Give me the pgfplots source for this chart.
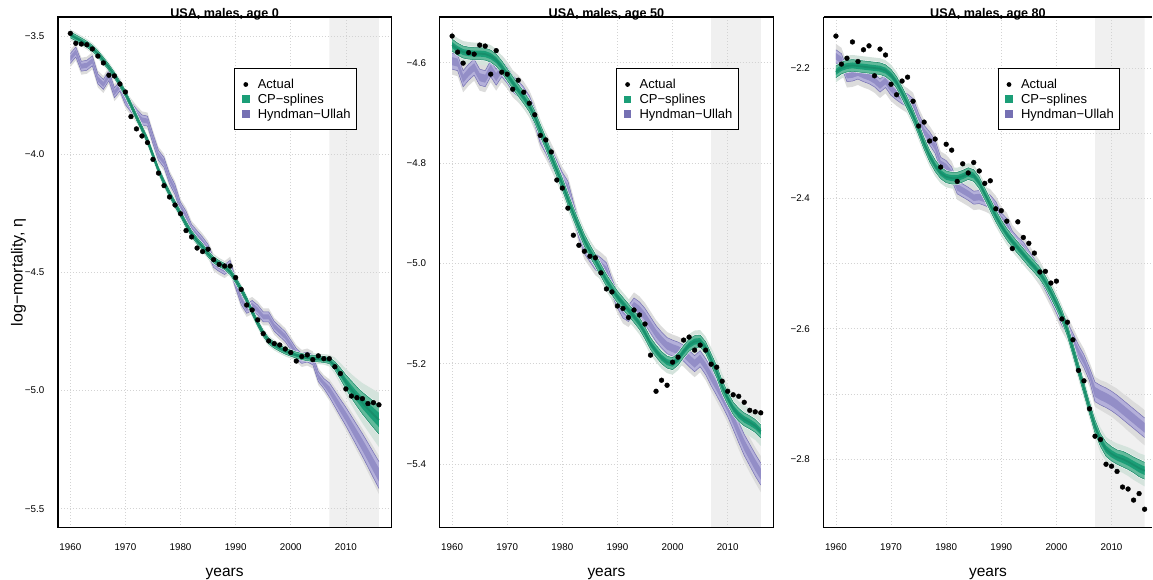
\documentclass[border=0pt]{standalone}
\usepackage{pgfplots}
\pgfplotsset{compat=1.18}
\usepackage{pgfplotstable}
\usepgfplotslibrary{fillbetween}
\usepackage{fontspec}
\setmainfont{Liberation Sans}
\tikzset{fill between/on layer=main}

\definecolor{cpg}{HTML}{1B9E77}
\definecolor{cpl}{HTML}{62BA9B}
\definecolor{hup}{HTML}{7570B3}
\definecolor{hul}{HTML}{B4B0DA}
\definecolor{hum}{HTML}{938EC7}
\definecolor{halo}{HTML}{DCDCDC}
\definecolor{cphalo}{HTML}{D4E3DC}
\definecolor{fc}{HTML}{F0F0F0}
\definecolor{gridc}{HTML}{D3D3D3}

% yr: year, act: actual, cc/cw/cg: CP-splines centre, inner and outer half-width,
% hc/hw/hg: Hyndman-Ullah centre, inner and outer half-width
\pgfplotstableread{
yr act cc cw cg hc hw hg
1960 -3.489 -3.495 0.013 0.022 -3.595 0.021 0.036
1961 -3.531 -3.508 0.013 0.022 -3.568 0.021 0.036
1962 -3.534 -3.521 0.013 0.022 -3.628 0.021 0.036
1963 -3.537 -3.535 0.013 0.022 -3.624 0.021 0.036
1964 -3.555 -3.552 0.013 0.022 -3.605 0.021 0.036
1965 -3.585 -3.575 0.013 0.022 -3.682 0.021 0.036
1966 -3.614 -3.603 0.013 0.022 -3.705 0.021 0.036
1967 -3.666 -3.633 0.013 0.022 -3.668 0.021 0.036
1968 -3.669 -3.666 0.013 0.022 -3.740 0.021 0.036
1969 -3.703 -3.703 0.013 0.022 -3.712 0.021 0.036
1970 -3.737 -3.744 0.013 0.022 -3.770 0.021 0.036
1971 -3.841 -3.792 0.013 0.022 -3.800 0.021 0.036
1972 -3.893 -3.843 0.013 0.022 -3.830 0.021 0.036
1973 -3.923 -3.892 0.013 0.022 -3.855 0.021 0.036
1974 -3.951 -3.942 0.013 0.022 -3.860 0.021 0.036
1975 -4.022 -4.005 0.013 0.022 -3.935 0.021 0.036
1976 -4.080 -4.068 0.013 0.022 -4.005 0.021 0.036
1977 -4.133 -4.120 0.013 0.022 -4.035 0.021 0.036
1978 -4.181 -4.167 0.013 0.022 -4.105 0.021 0.036
1979 -4.215 -4.211 0.013 0.022 -4.150 0.021 0.036
1980 -4.252 -4.252 0.013 0.022 -4.225 0.021 0.036
1981 -4.323 -4.296 0.013 0.022 -4.262 0.021 0.036
1982 -4.350 -4.336 0.013 0.022 -4.318 0.021 0.036
1983 -4.397 -4.366 0.013 0.022 -4.345 0.021 0.036
1984 -4.412 -4.392 0.013 0.022 -4.372 0.021 0.036
1985 -4.402 -4.422 0.013 0.022 -4.403 0.021 0.036
1986 -4.446 -4.447 0.013 0.022 -4.458 0.021 0.036
1987 -4.466 -4.463 0.013 0.022 -4.475 0.021 0.036
1988 -4.473 -4.475 0.013 0.022 -4.488 0.021 0.036
1989 -4.473 -4.497 0.013 0.022 -4.470 0.021 0.036
1990 -4.522 -4.532 0.013 0.022 -4.546 0.021 0.036
1991 -4.572 -4.572 0.013 0.022 -4.615 0.021 0.036
1992 -4.638 -4.617 0.013 0.022 -4.652 0.021 0.036
1993 -4.659 -4.667 0.013 0.022 -4.640 0.021 0.036
1994 -4.701 -4.715 0.013 0.022 -4.659 0.021 0.036
1995 -4.759 -4.758 0.013 0.022 -4.688 0.021 0.036
1996 -4.790 -4.790 0.013 0.022 -4.688 0.021 0.036
1997 -4.801 -4.808 0.013 0.022 -4.728 0.021 0.036
1998 -4.807 -4.821 0.013 0.022 -4.750 0.021 0.036
1999 -4.824 -4.833 0.013 0.022 -4.772 0.021 0.036
2000 -4.839 -4.842 0.013 0.022 -4.807 0.021 0.036
2001 -4.875 -4.850 0.013 0.022 -4.843 0.021 0.036
2002 -4.856 -4.856 0.013 0.022 -4.864 0.021 0.036
2003 -4.849 -4.861 0.013 0.022 -4.858 0.021 0.036
2004 -4.869 -4.864 0.013 0.022 -4.870 0.021 0.036
2005 -4.853 -4.866 0.013 0.022 -4.941 0.021 0.036
2006 -4.865 -4.868 0.013 0.022 -4.970 0.021 0.036
2007 -4.865 -4.873 0.013 0.025 -4.997 0.030 0.045
2008 -4.899 -4.895 0.018 0.035 -5.035 0.033 0.049
2009 -4.928 -4.928 0.024 0.045 -5.073 0.036 0.053
2010 -4.993 -4.963 0.030 0.055 -5.110 0.039 0.057
2011 -5.023 -4.995 0.036 0.065 -5.150 0.042 0.061
2012 -5.030 -5.025 0.041 0.075 -5.190 0.045 0.065
2013 -5.034 -5.053 0.046 0.085 -5.230 0.048 0.069
2014 -5.055 -5.077 0.051 0.095 -5.272 0.051 0.073
2015 -5.051 -5.101 0.056 0.105 -5.315 0.054 0.077
2016 -5.060 -5.124 0.060 0.115 -5.357 0.057 0.081
}\tabA

\pgfplotstableread{
yr act cc cw cg hc hw hg
1960 -4.547 -4.565 0.012 0.022 -4.597 0.016 0.027
1961 -4.579 -4.573 0.012 0.022 -4.600 0.016 0.027
1962 -4.601 -4.579 0.012 0.022 -4.632 0.016 0.027
1963 -4.580 -4.581 0.012 0.022 -4.619 0.016 0.027
1964 -4.583 -4.582 0.012 0.022 -4.609 0.016 0.027
1965 -4.565 -4.582 0.012 0.022 -4.629 0.016 0.027
1966 -4.567 -4.583 0.012 0.022 -4.632 0.016 0.027
1967 -4.623 -4.587 0.012 0.022 -4.612 0.016 0.027
1968 -4.576 -4.595 0.012 0.022 -4.629 0.016 0.027
1969 -4.619 -4.608 0.012 0.022 -4.612 0.016 0.027
1970 -4.623 -4.624 0.012 0.022 -4.625 0.016 0.027
1971 -4.653 -4.640 0.012 0.022 -4.642 0.016 0.027
1972 -4.635 -4.655 0.012 0.022 -4.652 0.016 0.027
1973 -4.659 -4.670 0.012 0.022 -4.665 0.016 0.027
1974 -4.681 -4.686 0.012 0.022 -4.682 0.016 0.027
1975 -4.704 -4.708 0.012 0.022 -4.708 0.016 0.027
1976 -4.745 -4.735 0.012 0.022 -4.745 0.016 0.027
1977 -4.754 -4.761 0.012 0.022 -4.765 0.016 0.027
1978 -4.778 -4.788 0.012 0.022 -4.788 0.016 0.027
1979 -4.834 -4.815 0.012 0.022 -4.811 0.016 0.027
1980 -4.850 -4.842 0.012 0.022 -4.835 0.016 0.027
1981 -4.890 -4.872 0.012 0.022 -4.852 0.016 0.027
1982 -4.944 -4.901 0.012 0.022 -4.894 0.016 0.027
1983 -4.964 -4.928 0.012 0.022 -4.934 0.016 0.027
1984 -4.976 -4.954 0.012 0.022 -4.965 0.016 0.027
1985 -4.986 -4.975 0.012 0.022 -4.981 0.016 0.027
1986 -4.989 -4.994 0.012 0.022 -4.997 0.016 0.027
1987 -5.019 -5.014 0.012 0.022 -5.005 0.016 0.027
1988 -5.051 -5.034 0.012 0.022 -5.015 0.016 0.027
1989 -5.057 -5.051 0.012 0.022 -5.047 0.016 0.027
1990 -5.085 -5.067 0.012 0.022 -5.073 0.016 0.027
1991 -5.090 -5.080 0.012 0.022 -5.093 0.016 0.027
1992 -5.108 -5.093 0.012 0.022 -5.100 0.016 0.027
1993 -5.093 -5.106 0.012 0.022 -5.085 0.016 0.027
1994 -5.103 -5.120 0.012 0.022 -5.093 0.016 0.027
1995 -5.121 -5.139 0.012 0.022 -5.106 0.016 0.027
1996 -5.183 -5.160 0.012 0.022 -5.123 0.016 0.027
1997 -5.255 -5.175 0.012 0.022 -5.140 0.016 0.027
1998 -5.233 -5.188 0.012 0.022 -5.153 0.016 0.027
1999 -5.243 -5.197 0.012 0.022 -5.164 0.016 0.027
2000 -5.197 -5.200 0.012 0.022 -5.169 0.016 0.027
2001 -5.187 -5.191 0.012 0.022 -5.173 0.016 0.027
2002 -5.153 -5.176 0.012 0.022 -5.179 0.016 0.027
2003 -5.147 -5.163 0.012 0.022 -5.190 0.016 0.027
2004 -5.173 -5.156 0.012 0.022 -5.200 0.016 0.027
2005 -5.163 -5.155 0.012 0.022 -5.190 0.016 0.027
2006 -5.173 -5.168 0.012 0.022 -5.206 0.016 0.027
2007 -5.201 -5.192 0.012 0.024 -5.226 0.018 0.029
2008 -5.207 -5.216 0.012 0.025 -5.245 0.0185 0.030
2009 -5.235 -5.246 0.0125 0.026 -5.265 0.019 0.031
2010 -5.255 -5.269 0.0125 0.026 -5.286 0.0195 0.032
2011 -5.262 -5.289 0.0125 0.027 -5.311 0.020 0.033
2012 -5.265 -5.302 0.013 0.027 -5.337 0.0205 0.034
2013 -5.277 -5.311 0.013 0.028 -5.362 0.021 0.034
2014 -5.293 -5.317 0.013 0.028 -5.382 0.0215 0.035
2015 -5.296 -5.324 0.013 0.028 -5.402 0.022 0.035
2016 -5.298 -5.335 0.013 0.029 -5.420 0.022 0.036
}\tabB

\pgfplotstableread{
yr act cc cw cg hc hw hg
1960 -2.151 -2.206 0.009 0.016 -2.182 0.010 0.019
1961 -2.194 -2.200 0.009 0.016 -2.188 0.010 0.019
1962 -2.185 -2.197 0.009 0.016 -2.211 0.010 0.019
1963 -2.160 -2.196 0.009 0.016 -2.210 0.010 0.019
1964 -2.190 -2.197 0.009 0.016 -2.207 0.010 0.019
1965 -2.172 -2.198 0.009 0.016 -2.211 0.010 0.019
1966 -2.166 -2.199 0.009 0.016 -2.214 0.010 0.019
1967 -2.212 -2.200 0.009 0.016 -2.219 0.010 0.019
1968 -2.171 -2.201 0.009 0.016 -2.227 0.010 0.019
1969 -2.180 -2.204 0.009 0.016 -2.220 0.010 0.019
1970 -2.225 -2.211 0.009 0.016 -2.232 0.010 0.019
1971 -2.241 -2.222 0.009 0.016 -2.239 0.010 0.019
1972 -2.220 -2.238 0.009 0.016 -2.245 0.010 0.019
1973 -2.214 -2.255 0.009 0.016 -2.250 0.010 0.019
1974 -2.251 -2.273 0.009 0.016 -2.257 0.010 0.019
1975 -2.289 -2.294 0.009 0.016 -2.280 0.010 0.019
1976 -2.283 -2.316 0.009 0.016 -2.298 0.010 0.019
1977 -2.312 -2.335 0.009 0.016 -2.308 0.010 0.019
1978 -2.309 -2.350 0.009 0.016 -2.321 0.010 0.019
1979 -2.352 -2.361 0.009 0.016 -2.347 0.010 0.019
1980 -2.317 -2.367 0.009 0.016 -2.352 0.010 0.019
1981 -2.326 -2.369 0.009 0.016 -2.362 0.010 0.019
1982 -2.374 -2.369 0.009 0.016 -2.383 0.010 0.019
1983 -2.347 -2.366 0.009 0.016 -2.388 0.010 0.019
1984 -2.361 -2.362 0.009 0.016 -2.393 0.010 0.019
1985 -2.345 -2.365 0.009 0.016 -2.399 0.010 0.019
1986 -2.358 -2.376 0.009 0.016 -2.398 0.010 0.019
1987 -2.377 -2.393 0.009 0.016 -2.401 0.010 0.019
1988 -2.373 -2.410 0.009 0.016 -2.405 0.010 0.019
1989 -2.416 -2.427 0.009 0.016 -2.415 0.010 0.019
1990 -2.419 -2.442 0.009 0.016 -2.432 0.010 0.019
1991 -2.435 -2.455 0.009 0.016 -2.441 0.010 0.019
1992 -2.477 -2.466 0.009 0.016 -2.460 0.010 0.019
1993 -2.436 -2.476 0.009 0.016 -2.470 0.010 0.019
1994 -2.460 -2.486 0.009 0.016 -2.477 0.010 0.019
1995 -2.469 -2.496 0.009 0.016 -2.490 0.010 0.019
1996 -2.484 -2.505 0.009 0.016 -2.503 0.010 0.019
1997 -2.513 -2.515 0.009 0.016 -2.515 0.010 0.019
1998 -2.512 -2.528 0.009 0.016 -2.531 0.010 0.019
1999 -2.530 -2.544 0.009 0.016 -2.548 0.010 0.019
2000 -2.527 -2.561 0.009 0.016 -2.566 0.010 0.019
2001 -2.585 -2.580 0.009 0.016 -2.585 0.010 0.019
2002 -2.590 -2.603 0.009 0.016 -2.600 0.010 0.019
2003 -2.617 -2.632 0.009 0.016 -2.617 0.010 0.019
2004 -2.664 -2.662 0.009 0.016 -2.635 0.010 0.019
2005 -2.680 -2.692 0.009 0.016 -2.650 0.010 0.019
2006 -2.723 -2.722 0.009 0.016 -2.670 0.010 0.019
2007 -2.765 -2.750 0.010 0.018 -2.697 0.015 0.023
2008 -2.770 -2.771 0.010 0.019 -2.702 0.015 0.023
2009 -2.808 -2.785 0.011 0.019 -2.706 0.015 0.024
2010 -2.811 -2.792 0.011 0.020 -2.711 0.015 0.024
2011 -2.819 -2.797 0.011 0.021 -2.717 0.015 0.025
2012 -2.843 -2.800 0.012 0.021 -2.724 0.015 0.025
2013 -2.846 -2.804 0.012 0.022 -2.731 0.015 0.026
2014 -2.863 -2.809 0.012 0.023 -2.738 0.015 0.026
2015 -2.853 -2.814 0.013 0.023 -2.745 0.015 0.027
2016 -2.877 -2.818 0.013 0.024 -2.752 0.015 0.027
}\tabC

% band between centre +/- factor*halfwidth
\newcommand{\band}[6]{%
  \addplot[draw=none, forget plot, name path=#6u] table[x=yr, y expr={\thisrow{#2}+#4*\thisrow{#3}}] {#1};
  \addplot[draw=none, forget plot, name path=#6l] table[x=yr, y expr={\thisrow{#2}-#4*\thisrow{#3}}] {#1};
  \addplot[#5, draw=none, forget plot] fill between[of=#6u and #6l];
}
\newcommand{\edge}[5]{%
  \addplot[#5, forget plot] table[x=yr, y expr={\thisrow{#2}#4\thisrow{#3}}] {#1};
}
\newcommand{\lrule}{\rule[-1.9pt]{0pt}{13.1pt}}
\newcommand{\drawpanel}[3]{%
  \addplot[fill=fc, draw=none, forget plot, on layer=axis background] coordinates {(2007,#2) (2007,#3) (2016,#3) (2016,#2) (2007,#2)};
  \band{#1}{hc}{hg}{1}{fill=halo}{a}
  \band{#1}{cc}{cg}{1}{fill=cphalo}{b}
  \band{#1}{hc}{hw}{1}{fill=hul}{c}
  \band{#1}{hc}{hw}{0.5}{fill=hum}{d}
  \edge{#1}{hc}{hw}{+}{hup, line width=0.5pt}
  \edge{#1}{hc}{hw}{-}{hup, line width=0.5pt}
  \edge{#1}{cc}{cw}{+}{white, line width=1.6pt}
  \edge{#1}{cc}{cw}{-}{white, line width=1.6pt}
  \band{#1}{cc}{cw}{1}{fill=cpl}{e}
  \band{#1}{cc}{cw}{0.5}{fill=cpg}{f}
  \edge{#1}{cc}{cw}{+}{cpg!85!black, line width=0.5pt}
  \edge{#1}{cc}{cw}{-}{cpg!85!black, line width=0.5pt}
  \addplot[cpg!90!black, line width=1.8pt, forget plot] table[x=yr, y=cc] {#1};
  \addplot[only marks, mark=*, mark size=2.4pt, black, forget plot] table[x=yr, y=act] {#1};
  \addlegendimage{legend image code/.code={\fill[black, draw=none] (0pt,-0.4pt) circle (2.4pt); \path[draw=none, fill=none] (-5pt,-5pt) rectangle (5pt,4.2pt);}}
  \addlegendentry{\lrule Actual}
  \addlegendimage{legend image code/.code={\fill[cpg, draw=none] (-3.8pt,-4.4pt) rectangle (3.8pt,3.6pt); \path[draw=none, fill=none] (-5pt,-5pt) rectangle (5pt,4.2pt);}}
  \addlegendentry{\lrule CP−splines}
  \addlegendimage{legend image code/.code={\fill[hup, draw=none] (-3.8pt,-4.4pt) rectangle (3.8pt,3.6pt); \path[draw=none, fill=none] (-5pt,-5pt) rectangle (5pt,4.2pt);}}
  \addlegendentry{\lrule Hyndman−Ullah}
}

\pgfplotsset{
  panel/.style={
    set layers,
    scale only axis, width=333.5pt, height=511pt, anchor=south west,
    xmin=1957.76, xmax=2018.24,
    xtick={1960,1970,1980,1990,2000,2010},
    xticklabels={1960,1970,1980,1990,2000,2010},
    major tick length=0pt, minor tick length=0pt,
    xmajorgrids, ymajorgrids,
    major grid style={gridc, line width=0.7pt, dash pattern=on 0.8pt off 2.2pt},
    minor grid style={gridc, line width=0.7pt, dash pattern=on 0.8pt off 2.2pt},
    axis line style={line width=1.2pt, black},
    ticklabel style={font=\fontsize{9.8}{11}\selectfont},
    xticklabel style={anchor=north, inner sep=0pt, yshift=-16pt},
    yticklabel style={anchor=east, inner sep=0pt, xshift=-13.5pt},
    title style={font=\bfseries\fontsize{12.6}{14}\selectfont, at={(axis description cs:0.5,1)}, anchor=base, inner sep=0pt, yshift=-6.2pt},
    xlabel={years},
    xlabel style={font=\fontsize{15.5}{17}\selectfont, at={(axis description cs:0.5,0)}, anchor=base, inner sep=0pt, yshift=-49pt},
    legend cell align=left,
    legend style={at={(0.529,0.8996)}, anchor=north west,
      draw=black, line width=1pt, fill=white,
      inner xsep=6pt, inner ysep=9pt, row sep=2.3pt,
      font=\fontsize{13}{15}\selectfont,
      nodes={inner sep=0pt},
      /tikz/column 1/.style={column sep=7pt}},
  }
}

\begin{document}
\begin{tikzpicture}

\begin{axis}[panel, at={(58pt,52pt)},
  ymin=-5.580, ymax=-3.4197,
  ytick={-5.5,-5,-4.5,-4,-3.5},
  yticklabels={−5.5,−5.0,−4.5,−4.0,−3.5},
  title={USA, males, age 0},
  ylabel={log−mortality, η},
  ylabel style={font=\fontsize{16}{18}\selectfont, at={(axis description cs:-0.1058,0.5)}, anchor=base, inner sep=0pt},
]
\drawpanel{\tabA}{-5.580}{-3.4197}
\end{axis}

\begin{axis}[panel, at={(440pt,52pt)},
  ymin=-5.527, ymax=-4.509,
  ytick={-5.4,-5.2,-5,-4.8,-4.6},
  yticklabels={−5.4,−5.2,−5.0,−4.8,−4.6},
  title={USA, males, age 50},
]
\drawpanel{\tabB}{-5.527}{-4.509}
\end{axis}

\begin{axis}[panel, at={(824pt,52pt)},
  width=329pt, xmax=2017.415,
  axis x line*=box, axis y line*=left,
  ymin=-2.9054, ymax=-2.1217,
  ytick={-2.8,-2.6,-2.4,-2.2},
  yticklabels={−2.8,−2.6,−2.4,−2.2},
  minor ytick={-2.7,-2.5,-2.3},
  yminorgrids,
  title={USA, males, age 80},
]
\drawpanel{\tabC}{-2.9054}{-2.1217}
\end{axis}

\path (0pt,0pt) rectangle (1153pt,580pt);
\end{tikzpicture}
\end{document}
